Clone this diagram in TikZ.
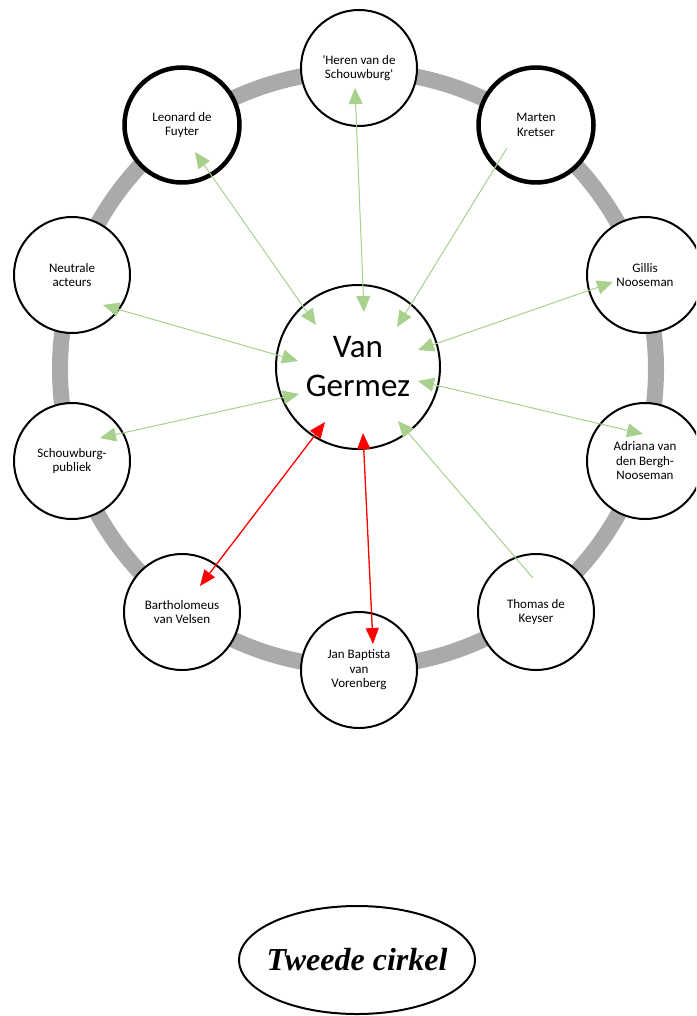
\documentclass[tikz,border=0pt]{standalone}
\usepackage{fontspec}
\setmainfont{Carlito}[Ligatures=TeXOff]
\newfontfamily\captionfont{Liberation Serif}
\usetikzlibrary{arrows.meta,shapes.geometric}
\definecolor{ringgray}{RGB}{170,170,170}
\definecolor{linkgreen}{RGB}{169,209,142}
\definecolor{linkred}{RGB}{255,0,0}

\begin{document}
\begin{tikzpicture}[x=1pt,y=-1pt,
  actor/.style={circle, draw=black, line width=2pt, fill=white,
    minimum size=116pt, inner sep=0pt, align=center,
    font=\fontsize{13}{14.5}\selectfont},
  keyactor/.style={actor, line width=4.5pt, minimum size=115pt},
  hubnode/.style={circle, draw=black, line width=2pt, fill=white,
    minimum size=164pt, inner sep=0pt, align=center,
    font=\fontsize{33}{39}\selectfont},
  gtip/.tip={Triangle[length=16pt,width=14pt]},
  rtip/.tip={Triangle[length=16pt,width=13pt]},
  link/.style={draw=linkgreen, fill=linkgreen, line width=1pt},
  conflict/.style={draw=linkred, fill=linkred, line width=1.3pt},
]
\useasboundingbox (0,0) rectangle (696,1016);
\clip (0,0) rectangle (696,1016);

% the grey circle that carries the actors
\draw[ringgray, line width=16pt] (358,369) circle[radius=298];

% central figure
\node[hubnode] (hub) at (358,367) {Van\\Germez};

% actors around the ring
\node[actor]    (heren)    at (359,68)  {'Heren van de\\Schouwburg'};
\node[keyactor] (marten)   at (536,125) {Marten\\Kretser};
\node[actor]    (gillis)   at (645,275) {Gillis\\Nooseman};
\node[actor]    (adriana)  at (645,461) {Adriana van\\den Bergh-\\Nooseman};
\node[actor]    (thomas)   at (536,612) {Thomas de\\Keyser};
\node[actor]    (jan)      at (359,670) {Jan Baptista\\van\\Vorenberg};
\node[actor]    (barth)    at (182,612) {Bartholomeus\\van Velsen};
\node[actor]    (schouw)   at (72,461)  {Schouwburg-\\publiek};
\node[actor]    (neutrale) at (72,275)  {Neutrale\\acteurs};
\node[keyactor] (leonard)  at (182,125) {Leonard de\\Fuyter};

% connector end points inside the circles
\coordinate (heren-end)    at (355,88);
\coordinate (hub-heren)    at (364,312);
\coordinate (leonard-end)  at (195,152);
\coordinate (hub-leonard)  at (316,325);
\coordinate (marten-end)   at (507,148);
\coordinate (hub-marten)   at (397,327);
\coordinate (gillis-end)   at (613,282);
\coordinate (hub-gillis)   at (418,350);
\coordinate (neutrale-end) at (103,305);
\coordinate (hub-neutrale) at (298,361);
\coordinate (schouw-end)   at (100,438);
\coordinate (hub-schouw)   at (299,394);
\coordinate (adriana-end)  at (643,434);
\coordinate (hub-adriana)  at (418,381);
\coordinate (thomas-end)   at (533,578);
\coordinate (hub-thomas)   at (398,421);
\coordinate (barth-end)    at (200,586);
\coordinate (hub-barth)    at (325,422);
\coordinate (jan-end)      at (373,644);
\coordinate (hub-jan)      at (363,433);

% relations
\draw[link, gtip-gtip] (heren-end) -- (hub-heren);
\draw[link, gtip-gtip] (leonard-end) -- (hub-leonard);
\draw[link, -gtip] (marten-end) -- (hub-marten);
\draw[link, gtip-gtip] (gillis-end) -- (hub-gillis);
\draw[link, gtip-gtip] (neutrale-end) -- (hub-neutrale);
\draw[link, gtip-gtip] (schouw-end) -- (hub-schouw);
\draw[link, gtip-gtip] (adriana-end) -- (hub-adriana);
\draw[link, -gtip] (thomas-end) -- (hub-thomas);
\draw[conflict, rtip-rtip] (barth-end) -- (hub-barth);
\draw[conflict, rtip-rtip] (jan-end) -- (hub-jan);

% caption
\node[ellipse, draw=black, line width=2pt, minimum width=236pt,
  minimum height=108pt, inner xsep=-7pt, inner ysep=0pt,
  font=\captionfont\bfseries\itshape\fontsize{32}{36}\selectfont]
  (caption) at (357,960) {Tweede cirkel};
\end{tikzpicture}
\end{document}
